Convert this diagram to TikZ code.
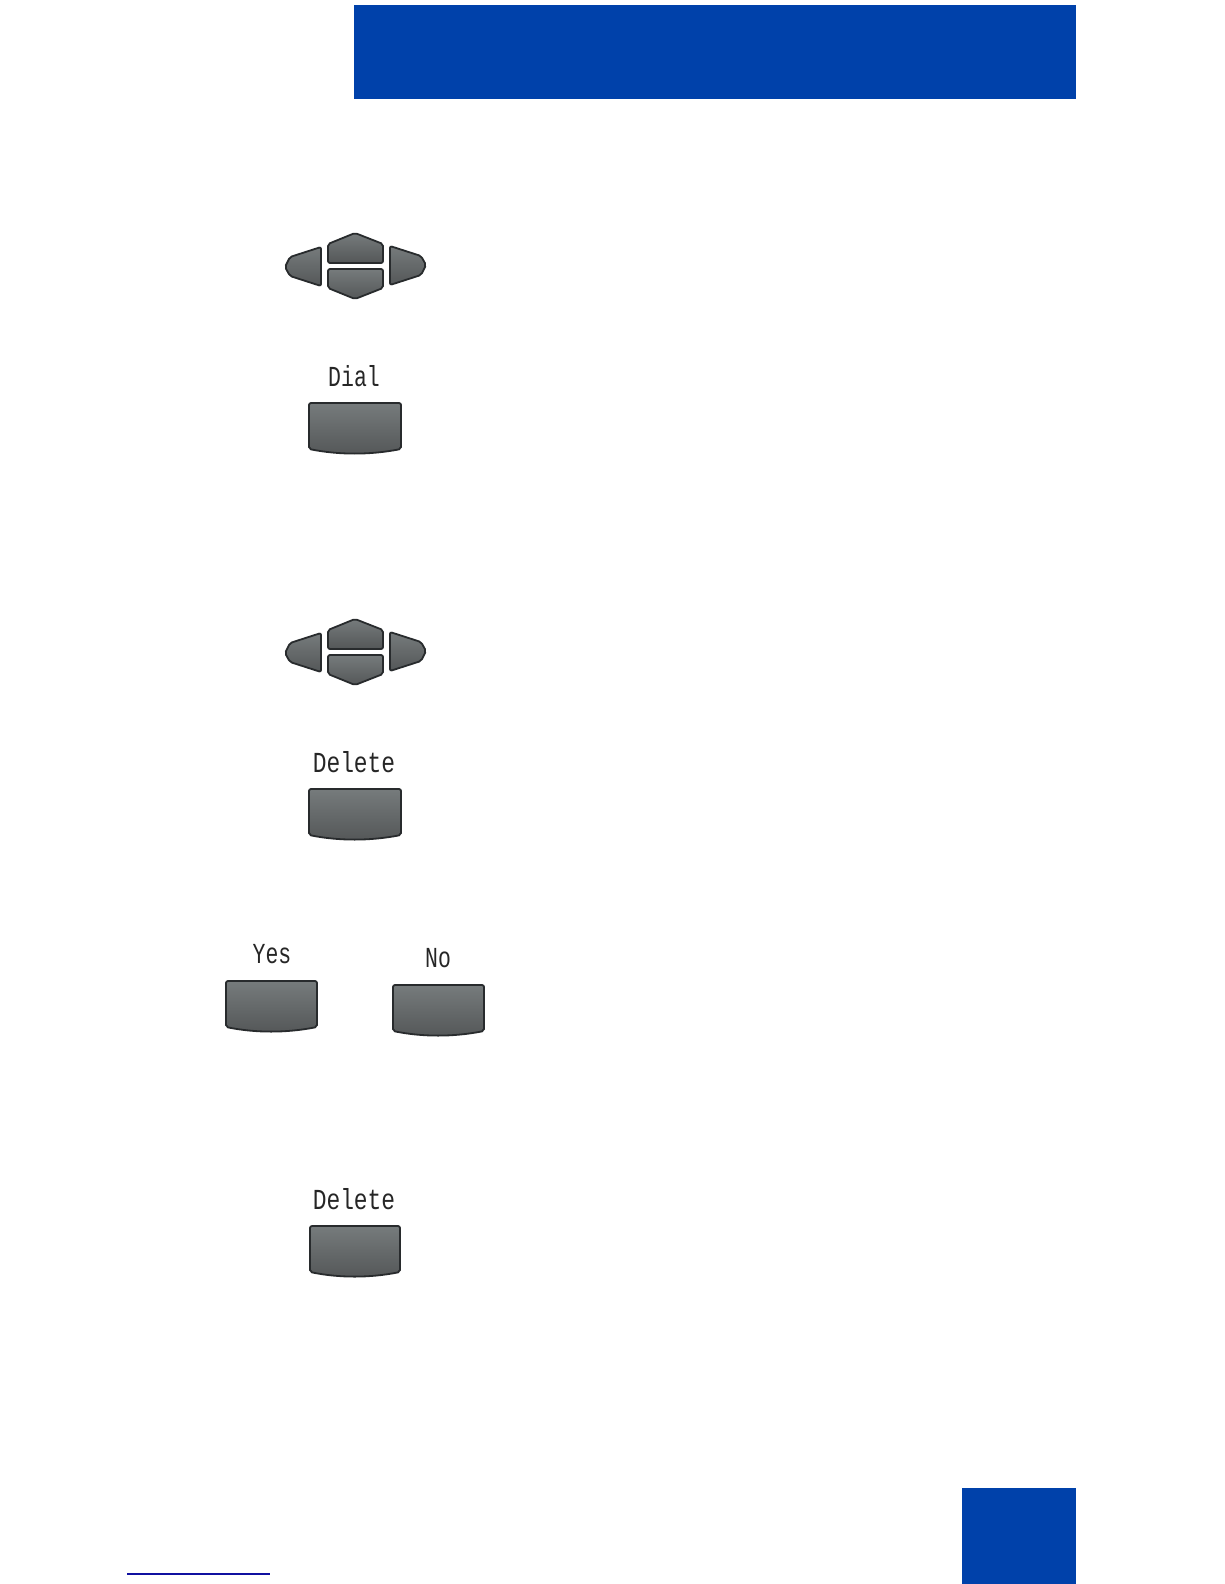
\documentclass[tikz,border=0pt]{standalone}
\usepackage{fontspec}
\setmonofont{Liberation Mono}
\usepackage{xcolor}
\usepackage{tikz}
\definecolor{bandblue}{RGB}{0,65,170}
\definecolor{linkblue}{RGB}{16,16,160}
\definecolor{keyedge}{RGB}{40,43,45}
\definecolor{keytop}{RGB}{118,123,124}
\definecolor{keylow}{RGB}{84,87,88}
% soft key: left x, top y, width
\newcommand{\softkey}[3]{
  \draw [key] (#1+1,#2+1) -- (#1+#3,#2+1) -- (#1+#3,#2+47)
    .. controls (#1+#3*2/3,#2+53) and (#1+#3/3,#2+53) .. (#1+1,#2+47) -- cycle;
}
% navigation cluster: vertical shift
\newcommand{\navkeys}[1]{
  \draw [key] (328,#1+244) -- (355,#1+233) -- (383,#1+244) -- (383,#1+263) -- (328,#1+263) -- cycle;
  \draw [key] (328,#1+269) -- (383,#1+269) -- (383,#1+288) -- (355,#1+299) -- (328,#1+288) -- cycle;
  \draw [key] (321,#1+247) -- (321,#1+286) -- (290,#1+276) -- (285,#1+267) -- (290,#1+257) -- cycle;
  \draw [key] (390,#1+246) -- (421,#1+256) -- (426,#1+265) -- (421,#1+275) -- (390,#1+285) -- cycle;
}
\begin{document}
\begin{tikzpicture}[
      x=1pt, y=-1pt,
      key/.style={draw=keyedge, line width=1.8pt, rounded corners=2pt, top color=keytop, bottom color=keylow},
      keylabel/.style={font=\ttfamily\fontsize{29}{29}\selectfont, xscale=0.74, inner sep=0pt, text=black!85},
      widelabel/.style={font=\ttfamily\fontsize{29}{29}\selectfont, xscale=0.79, inner sep=0pt, text=black!85}
  ]
  \useasboundingbox [fill=white] (0,0) rectangle (1224,1584);

  % Bands
  \fill [bandblue] (354,5) rectangle (1076,99);
  \fill [bandblue] (962,1488) rectangle (1076,1584);
  \fill [linkblue] (127,1573) rectangle (270,1575);

  % Keys
  \navkeys{0}
  \softkey{308}{402}{93}
  \navkeys{386}
  \softkey{308}{788}{93}
  \softkey{225}{980}{92}
  \softkey{392}{984}{92}
  \softkey{309}{1225}{91}

  % Labels
  \node (dial) [keylabel] at (354,376) {Dial};
  \node (delete) [widelabel] at (354,762) {Delete};
  \node (yes) [keylabel] at (272,954) {Yes};
  \node (no) [keylabel] at (438,958) {No};
  \node (deleteb) [widelabel] at (354,1199) {Delete};

\end{tikzpicture}
\end{document}
